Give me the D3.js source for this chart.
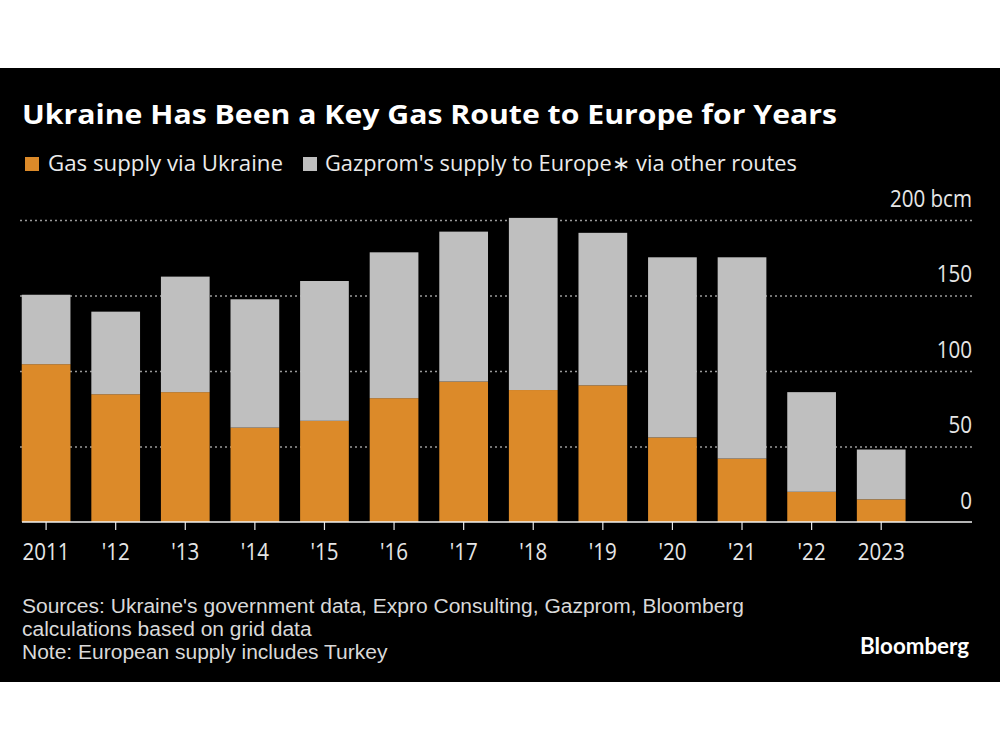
<!DOCTYPE html>
<html>
<head>
<meta charset="utf-8">
<script src="https://cdn.jsdelivr.net/npm/d3@7"></script>
<style>
  html, body { margin: 0; padding: 0; background: #fff; }
  svg { display: block; font-family: "Open Sans", "Noto Sans", sans-serif; }
</style>
</head>
<body>
<svg id="chart" width="1000" height="750"></svg>
<script>
// ---- Data ----
const years = ["2011", "'12", "'13", "'14", "'15", "'16", "'17", "'18", "'19", "'20", "'21", "'22", "2023"];
const viaUkraine = [104.5, 84.6, 86, 62.5, 67, 82, 93, 87.4, 90.5, 56, 42, 20, 15];
const otherRoutes = [46, 54.7, 76.5, 85, 92.6, 96.6, 99.3, 114, 101, 119.3, 133.3, 66, 33];
const yTicks = [0, 50, 100, 150, 200];
const seriesNames = ["Gas supply via Ukraine", "Gazprom's supply to Europe\u2217 via other routes"];
const titleText = "Ukraine Has Been a Key Gas Route to Europe for Years";
const footerLines = [
  "Sources: Ukraine's government data, Expro Consulting, Gazprom, Bloomberg",
  "calculations based on grid data",
  "Note: European supply includes Turkey"
];

const colors = { ukraine: "#dc8a29", other: "#bfbfbf" };

const svg = d3.select("#chart");

// Black panel
svg.append("rect").attr("x", 0).attr("y", 68).attr("width", 1000).attr("height", 614).attr("fill", "#000");

function fit(sel, w) {
  sel.attr("textLength", w).attr("lengthAdjust", "spacingAndGlyphs");
}

// Title
svg.append("text").attr("x", 22).attr("y", 124)
  .attr("fill", "#fff").attr("font-size", 26.5).attr("font-weight", 700)
  .text(titleText).call(fit, 815);

// Legend
const legend = [
  { c: colors.ukraine, sx: 25, tx: 48, tw: 235, t: seriesNames[0] },
  { c: colors.other, sx: 303, tx: 325, tw: 472, t: seriesNames[1] }
];
legend.forEach(l => {
  svg.append("rect").attr("x", l.sx).attr("y", 157).attr("width", 14).attr("height", 14).attr("fill", l.c);
  svg.append("text").attr("x", l.tx).attr("y", 171).attr("fill", "#ebebeb")
    .attr("font-size", 21).text(l.t).call(fit, l.tw);
});

// Scales
const x = d3.scaleBand().domain(years).range([11.3, 916]).paddingInner(0.3).paddingOuter(0.15);
const y = d3.scaleLinear().domain([0, 200]).range([522, 220]);

// Gridlines
const grid = svg.append("g").attr("transform", "translate(972,0)")
  .call(d3.axisLeft(y).tickValues(yTicks.filter(d => d > 0)).tickSize(952).tickFormat(""));
grid.select(".domain").remove();
grid.selectAll(".tick line").attr("stroke", "#9a9a9a").attr("stroke-width", 1.6).attr("stroke-dasharray", "2,3");

// Bars
const data = years.map((yr, i) => ({ year: yr, ukraine: viaUkraine[i], other: otherRoutes[i] }));
const stack = d3.stack().keys(["ukraine", "other"])(data);
svg.append("g").selectAll("g").data(stack).join("g")
  .attr("fill", d => colors[d.key])
  .selectAll("rect").data(d => d).join("rect")
  .attr("x", d => x(d.data.year))
  .attr("width", x.bandwidth())
  .attr("y", d => y(d[1]))
  .attr("height", d => y(d[0]) - y(d[1]));

// Y labels
const yLab = svg.append("g").attr("transform", "translate(972,0)")
  .call(d3.axisLeft(y).tickValues(yTicks).tickSize(0).tickPadding(0)
    .tickFormat(d => d === 200 ? "200 bcm" : d));
yLab.select(".domain").remove();
yLab.selectAll(".tick text")
  .attr("fill", "#e6e6e6").attr("font-size", 23.5).style("font-family", "'Open Sans', sans-serif")
  .attr("dy", null).attr("y", -14)
  .each(function () {
    const n = this.getComputedTextLength();
    d3.select(this).attr("textLength", n * 0.875).attr("lengthAdjust", "spacingAndGlyphs");
  });

// X axis
const xAx = svg.append("g").attr("transform", "translate(0,522)")
  .call(d3.axisBottom(x).tickSize(8).tickPadding(0));
xAx.select(".domain").remove();
xAx.selectAll(".tick line").attr("stroke", "#e6e6e6").attr("stroke-width", 1.2);
xAx.selectAll(".tick text")
  .attr("fill", "#e6e6e6").attr("font-size", 23.5).style("font-family", "'Open Sans', sans-serif")
  .attr("dy", null).attr("y", 38)
  .each(function () {
    const n = this.getComputedTextLength();
    d3.select(this).attr("textLength", n * 0.875).attr("lengthAdjust", "spacingAndGlyphs");
  });

// Baseline
svg.append("line").attr("x1", 22).attr("x2", 972).attr("y1", y(0)).attr("y2", y(0))
  .attr("stroke", "#f0f0f0").attr("stroke-width", 1.6);

// Footer (Liberation Sans: compact line box so lines 23px apart do not overlap)
const fEls = footerLines.map((t, i) => svg.append("text").attr("x", 22).attr("y", 613 + i * 23)
  .attr("fill", "#d9d9d9").attr("font-size", 19.5)
  .style("font-family", "'Liberation Sans', Arial, sans-serif").text(t));
const k = 722 / fEls[0].node().getComputedTextLength();
fEls.forEach(el => {
  const n = el.node().getComputedTextLength();
  el.attr("textLength", n * k).attr("lengthAdjust", "spacingAndGlyphs");
});

// Bloomberg logo
svg.append("text").attr("x", 969).attr("y", 654).attr("text-anchor", "end")
  .attr("fill", "#fff").attr("font-size", 22).attr("font-weight", 700)
  .style("font-family", "Lato, 'Open Sans', sans-serif")
  .text("Bloomberg").call(fit, 109);
</script>
</body>
</html>
